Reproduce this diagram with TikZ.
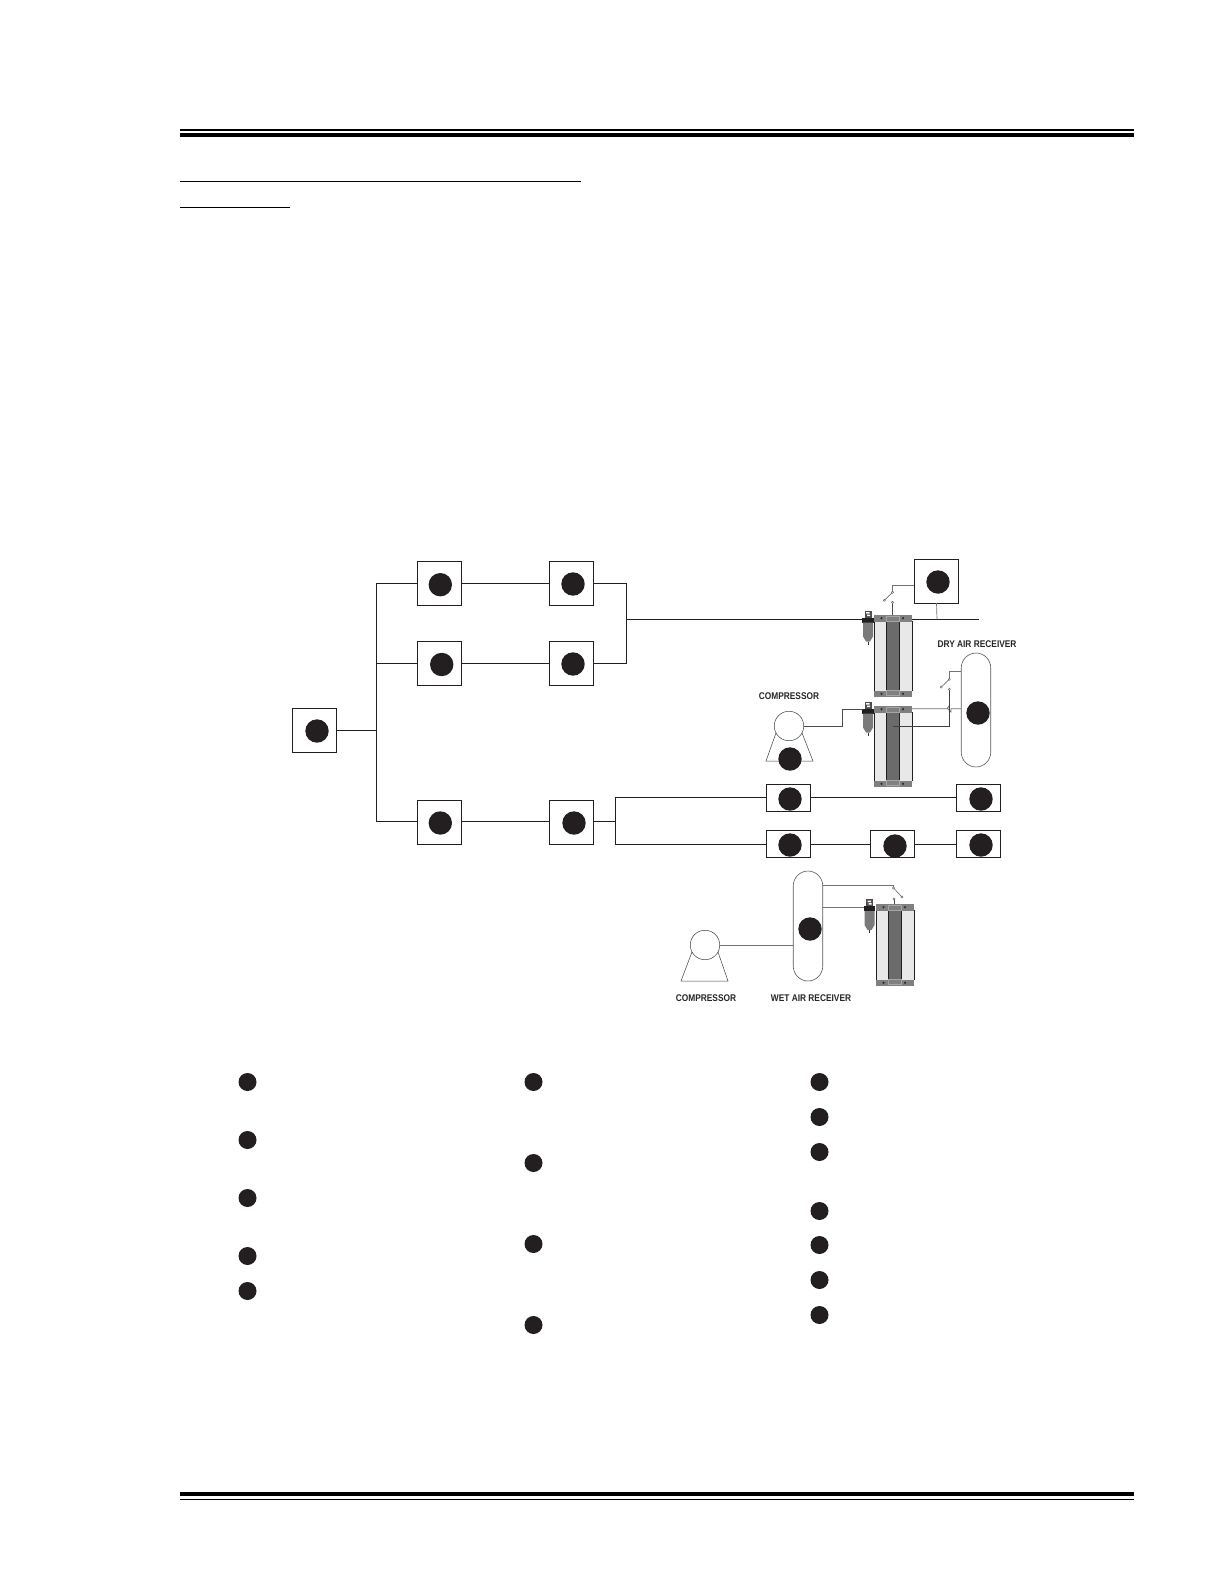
\documentclass[tikz,border=0pt]{standalone}
\usepackage{fontspec}
\setmainfont{Liberation Sans}
\newfontfamily\labfont{Liberation Sans}[FakeStretch=0.86]
\definecolor{inkc}{RGB}{35,31,32}
\tikzset{
  x=1pt,y=-1pt,
  dot/.style={circle,fill=inkc,draw=none,minimum size=#1,inner sep=0pt},
  dot/.default=23.4pt,
  sq/.style={draw=inkc,line width=0.7pt,fill=white,minimum width=44.2pt,minimum height=44.2pt,inner sep=0pt,outer sep=0pt},
  wide/.style={draw=inkc,line width=0.7pt,fill=white,minimum width=44.2pt,minimum height=27pt,inner sep=0pt,outer sep=0pt},
  pipe/.style={draw=inkc,line width=0.75pt},
  gpipe/.style={draw=black!55,line width=0.7pt},
  vessel/.style={draw=black!65,line width=0.6pt,fill=white,rounded corners=14.9pt},
  lab/.style={font=\labfont\fontsize{9.7}{11}\selectfont\bfseries,text=black!85,inner sep=0pt},
  rule/.style={draw=black,line width=#1},
  pin/.style={circle,draw=black!70,fill=white,line width=0.35pt,minimum size=2.2pt,inner sep=0pt},
}
\newcommand{\dryer}[3]{% x left, y top, y bottom
  \fill[black!9] (#1,#2) rectangle (#1+38,#3);
  \fill[black!58] (#1+12,#2) rectangle (#1+25,#3);
  \draw[inkc,line width=0.7pt] (#1,#2+6) -- (#1,#3-6) (#1+38,#2+6) -- (#1+38,#3-6);
  \draw[inkc,line width=0.7pt] (#1+12,#2+6) -- (#1+12,#3-6) (#1+25,#2+6) -- (#1+25,#3-6);
  \fill[black!50] (#1-0.4,#2) rectangle (#1+38.4,#2+6.5);
  \fill[black!50] (#1-0.4,#3-6.5) rectangle (#1+38.4,#3);
  \draw[black!35,line width=0.3pt] (#1+12,#2+6.5) rectangle (#1+25,#2+1.5);
  \draw[black!35,line width=0.3pt] (#1+12,#3-6.5) rectangle (#1+25,#3-1.5);
  \fill[black!85] (#1+7.5,#2+3.2) circle (1.2) (#1+29,#2+3.2) circle (1.2)
               (#1+7.5,#3-3.2) circle (1.2) (#1+29,#3-3.2) circle (1.2);
}
\newcommand{\airfilter}[2]{% x centre, y of filter head top
  \fill[black!70] (#1-3.5,#2-7) rectangle (#1+3.5,#2);
  \fill[white] (#1-2,#2-5.5) rectangle (#1+1.5,#2-4) (#1-1,#2-3) rectangle (#1+2,#2-1.5);
  \fill[inkc] (#1-5.8,#2) rectangle (#1+5.8,#2+5);
  \fill[black!52] (#1-5,#2+5) -- (#1+5,#2+5) -- (#1+5,#2+19) -- (#1+2,#2+24) -- (#1-2,#2+24) -- (#1-5,#2+19) -- cycle;
  \draw[black!80,line width=0.5pt] (#1,#2+24) -- (#1,#2+27);
}
\begin{document}
\begin{tikzpicture}
\useasboundingbox (0,0) rectangle (1224,1584);
\fill[white] (0,0) rectangle (1224,1584);

% page rules
\fill[black] (180,129) rectangle (1134,131.2);
\fill[black] (180,132.8) rectangle (1134,137);
\fill[black] (180,1492) rectangle (1134,1496);
\fill[black] (180,1498.6) rectangle (1134,1499.8);
\draw[rule=1pt] (180,181.3) -- (581,181.3);
\draw[rule=1pt] (180,207.3) -- (290,207.3);

% tree boxes
\node[sq] (a) at (314.5,730.3) {};
\node[sq] (b1) at (439.5,583.3) {};
\node[sq] (b2) at (439.5,663.5) {};
\node[sq] (b3) at (439.5,822.3) {};
\node[sq] (c1) at (571.5,583.3) {};
\node[sq] (c2) at (571.5,663.5) {};
\node[sq] (c3) at (571.5,822.3) {};
\node[wide] (d1) at (788.5,797.5) {};
\node[wide] (d2) at (788.5,843.5) {};
\node[wide] (f) at (892.5,843.5) {};
\node[wide] (e1) at (978.5,797.5) {};
\node[wide] (e2) at (978.5,843.5) {};
\node[sq] (g) at (936.5,581) {};

\coordinate (bus) at (376.3,730.3);
\coordinate (bust) at (376.3,583.3);
\coordinate (busm) at (376.3,663.3);
\coordinate (busb) at (376.3,821.3);
\coordinate (jt) at (626.3,583.3);
\coordinate (jb) at (626.3,663.3);
\coordinate (jm) at (626.3,619.3);
\coordinate (mainend) at (979,619.3);
\coordinate (kt) at (615,797.3);
\coordinate (kb) at (615,844.3);
\coordinate (km) at (615,821.3);

\draw[pipe] (a.east) -- (bus);
\draw[pipe] (bust) -- (busb);
\draw[pipe] (bust) -- (b1.west);
\draw[pipe] (busm) -- (b2.west |- busm);
\draw[pipe] (busb) -- (b3.west |- busb);
\draw[pipe] (b1.east) -- (c1.west);
\draw[pipe] (b2.east |- busm) -- (c2.west |- busm);
\draw[pipe] (b3.east |- busb) -- (c3.west |- busb);
\draw[pipe] (c1.east) -- (jt) -- (jb) -- (c2.east |- jb);
\draw[pipe] (jm) -- (mainend);
\draw[pipe] (c3.east |- km) -- (km);
\draw[pipe] (d1.west |- kt) -- (kt) -- (kb) -- (d2.west |- kb);
\draw[pipe] (d1.east |- kt) -- (e1.west |- kt);
\draw[pipe] (d2.east |- kb) -- (f.west |- kb);
\draw[pipe] (f.east |- kb) -- (e2.west |- kb);

% dryer 1 with its switch
\dryer{874}{615}{697}
\airfilter{868}{617.5}
\coordinate (sw1a) at (892.5,592.3);
\coordinate (sw1b) at (884.3,600.3);
\coordinate (sw1c) at (892.5,602.3);
\coordinate (sw1d) at (892.5,615);
\draw[gpipe] (g.west |- 0,585) -- (892.5,585) -- (sw1a);
\draw[black!70,line width=0.5pt] (sw1a) -- (sw1b);
\draw[black!70,line width=0.5pt] (sw1c) -- (sw1d);
\node[pin] at (sw1a) {}; \node[pin] at (sw1b) {}; \node[pin] at (sw1c) {};
\coordinate (gdrop) at (937,619.3);
\draw[gpipe] (g.south) -- (gdrop);

% dry air receiver, compressor and dryer 2
\dryer{874}{706}{787}
\airfilter{868}{708.5}
\node[vessel,minimum width=29.5pt,minimum height=114pt] (dry) at (976,710) {};
\coordinate (sw2a) at (949.3,679.3);
\coordinate (sw2b) at (941.3,687);
\coordinate (sw2c) at (949.3,689.3);
\draw[gpipe] (dry.west |- 0,671.7) -- (949.3,671.7) -- (sw2a);
\draw[black!70,line width=0.5pt] (sw2a) -- (sw2b);
\draw[gpipe] (912,708.7) -- (947,708.7) -- (949.3,705.5) -- (947.5,708.7) -- (951,712) -- (951,708.7) -- (dry.west |- 0,708.7);
\draw[black!75,line width=0.5pt] (sw2c) -- (949.3,726) -- (893.3,726);
\node[pin] at (sw2a) {}; \node[pin] at (sw2b) {}; \node[pin] at (sw2c) {};

\coordinate (t1l) at (766,761);
\coordinate (t1r) at (813,761);
\draw[black!75,line width=0.5pt] (776,733) -- (t1l) -- (t1r) -- (802,733);
\node[circle,draw=black!75,fill=white,line width=0.5pt,minimum size=29.5pt,inner sep=0pt] (comp1) at (789,726) {};
\coordinate (cp1a) at (842.5,726);
\coordinate (cp1b) at (842.5,709);
\draw[black!70,line width=0.6pt] (comp1.east) -- (cp1a) -- (cp1b) -- (863,709);

% wet air receiver, compressor and dryer 3
\dryer{876}{904}{986}
\airfilter{869.5}{906}
\node[vessel,minimum width=29.5pt,minimum height=110pt] (wet) at (808,926) {};
\coordinate (t2l) at (681,981);
\coordinate (t2r) at (728,981);
\draw[black!75,line width=0.5pt] (692,952) -- (t2l) -- (t2r) -- (718,952);
\node[circle,draw=black!75,fill=white,line width=0.5pt,minimum size=29.5pt,inner sep=0pt] (comp2) at (705,945) {};
\draw[gpipe] (comp2.east) -- (wet.west |- comp2.east);
\coordinate (sw3a) at (893.5,888);
\coordinate (sw3b) at (902,897);
\coordinate (sw3c) at (894,899);
\draw[gpipe] (wet.east |- 0,885) -- (893.5,885) -- (sw3a);
\draw[black!70,line width=0.5pt] (sw3a) -- (sw3b);
\draw[black!70,line width=0.5pt] (sw3c) -- (894,904);
\node[pin] at (sw3a) {}; \node[pin] at (sw3b) {}; \node[pin] at (sw3c) {};
\draw[gpipe] (wet.east |- 0,907) -- (864,907);

% labels
\node[lab] (l1) at (789,696) {COMPRESSOR};
\node[lab] (l2) at (977,644) {DRY AIR RECEIVER};
\node[lab] (l3) at (706,998) {COMPRESSOR};
\node[lab] (l4) at (811,998) {WET AIR RECEIVER};

% diagram dots
\node[dot] (n1) at (317,731) {};
\node[dot] (n2) at (440.3,584.7) {};
\node[dot] (n3) at (441.7,664.5) {};
\node[dot] (n4) at (440.3,823) {};
\node[dot] (n5) at (573,584) {};
\node[dot] (n6) at (573,664) {};
\node[dot] (n7) at (574,823) {};
\node[dot] (n8) at (938,582) {};
\node[dot] (n9) at (978,713) {};
\node[dot] (n10) at (790,759) {};
\node[dot] (n11) at (790,799) {};
\node[dot] (n12) at (981,799) {};
\node[dot] (n13) at (790,845) {};
\node[dot] (n14) at (895,846) {};
\node[dot] (n15) at (981,845) {};
\node[dot] (n16) at (810,929) {};

% legend dots
\foreach \nm/\px/\py in {p1/247.5/1082,p2/247.5/1140,p3/247.5/1198,p4/247.5/1256,p5/247.5/1291,
  q1/533.5/1082,q2/533.5/1163,q3/533.5/1244,q4/533.5/1325,
  r1/819.5/1082,r2/819.5/1117,r3/819.5/1152,r4/819.5/1211,r5/819.5/1245,r6/819.5/1280,r7/819.5/1315}
  \node[dot=18pt] (\nm) at (\px,\py) {};
\end{tikzpicture}
\end{document}
